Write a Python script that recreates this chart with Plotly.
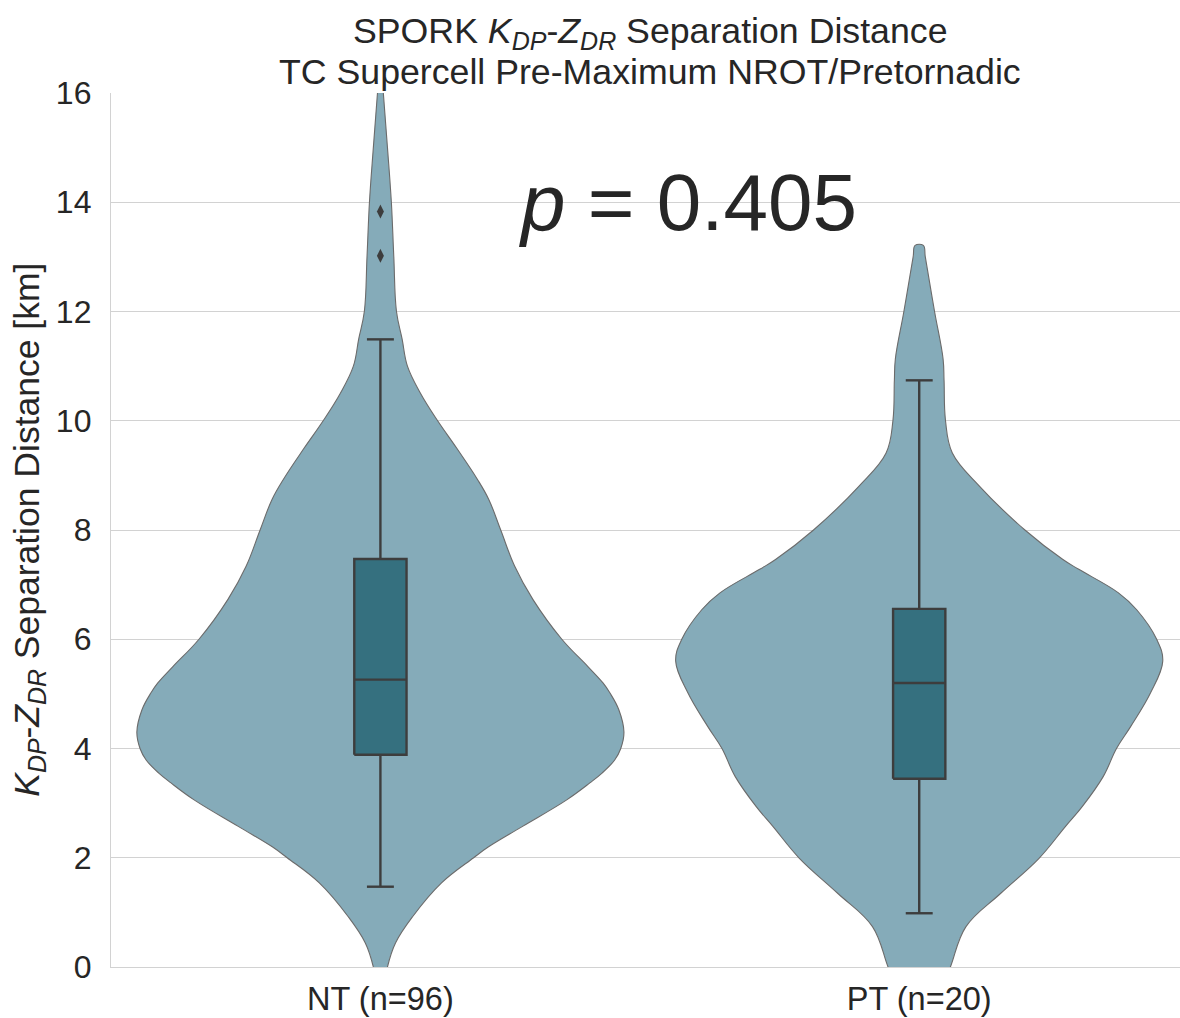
import plotly.graph_objects as go

# ---- data -------------------------------------------------------------
groups = ["NT (n=96)", "PT (n=20)"]
positions = [0, 1]

# Kernel-density outline of each group: value levels (km) and relative density
nt_levels = [-0.6, 0.0, 0.44, 0.92, 1.54, 2.0, 2.2, 2.57, 3.06, 3.37, 3.55, 3.79,
             4.0, 4.3, 4.71, 5.02, 5.2, 5.5, 6.0, 6.73, 7.34, 8.0, 8.56, 8.93,
             9.5, 10.0, 10.5, 11.0, 11.5, 12.0, 13.0, 14.0, 15.0, 16.0, 16.4]
nt_density = [0.008, 0.029, 0.062, 0.132, 0.251, 0.383, 0.444, 0.582, 0.765, 0.86,
              0.91, 0.962, 0.987, 1.0, 0.979, 0.942, 0.914, 0.852, 0.745, 0.626,
              0.551, 0.494, 0.445, 0.398, 0.313, 0.235, 0.165, 0.111, 0.089, 0.066,
              0.055, 0.045, 0.029, 0.012, 0.004]

pt_levels = [-0.5, 0.0, 0.74, 1.35, 1.99, 2.57, 2.94, 3.49, 4.0, 4.4, 5.02, 5.6,
             6.0, 6.54, 6.85, 7.28, 7.46, 8.0, 8.8, 9.41, 10.0, 10.74, 11.13,
             12.0, 13.0, 13.21]
pt_density = [0.083, 0.128, 0.192, 0.335, 0.492, 0.60, 0.67, 0.756, 0.81, 0.868,
              0.950, 1.0, 0.975, 0.893, 0.818, 0.655, 0.59, 0.434, 0.248, 0.136,
              0.108, 0.102, 0.098, 0.063, 0.025, 0.017]

# Box-plot summary statistics (km)
q1 = [3.885, 3.446]
median = [5.26, 5.20]
q3 = [7.47, 6.556]
lower_whisker = [1.47, 0.984]
upper_whisker = [11.49, 10.74]
nt_outliers = [13.02, 13.83]

p_value = 0.405

# ---- styling ------------------------------------------------------------
VIOLIN_FILL = "#85abb9"
VIOLIN_EDGE = "#6b6b6b"
BOX_FILL = "#35707f"
BOX_EDGE = "#3d3d3d"
GRID = "#d2d2d2"
TEXT = "#262626"
FONT = "Liberation Sans, Arial, sans-serif"
HALF_WIDTH = 0.452     # widest half of each violin, in category units
BOX_HALF = 0.0485      # half width of the inner box
CAP_HALF = 0.025       # half width of the whisker caps

fig = go.Figure()

# violin bodies
for pos, levels, dens in [(positions[0], nt_levels, nt_density),
                          (positions[1], pt_levels, pt_density)]:
    right = [pos + HALF_WIDTH * d for d in dens]
    left = [pos - HALF_WIDTH * d for d in reversed(dens)]
    xs = right + left + [right[0]]
    ys = list(levels) + list(reversed(levels)) + [levels[0]]
    fig.add_trace(go.Scatter(
        x=xs, y=ys, mode="lines", fill="toself", fillcolor=VIOLIN_FILL,
        line=dict(color=VIOLIN_EDGE, width=1.1, shape="spline", smoothing=1.1),
        hoverinfo="skip", showlegend=False,
    ))

# inner box plots: whiskers, caps, box and median
for i, pos in enumerate(positions):
    wx = [pos, pos, None, pos, pos, None,
          pos - CAP_HALF, pos + CAP_HALF, None, pos - CAP_HALF, pos + CAP_HALF]
    wy = [q3[i], upper_whisker[i], None, q1[i], lower_whisker[i], None,
          upper_whisker[i], upper_whisker[i], None, lower_whisker[i], lower_whisker[i]]
    fig.add_trace(go.Scatter(
        x=wx, y=wy, mode="lines", line=dict(color=BOX_EDGE, width=2.4),
        hoverinfo="skip", showlegend=False,
    ))
    fig.add_trace(go.Scatter(
        x=[pos - BOX_HALF, pos + BOX_HALF, pos + BOX_HALF, pos - BOX_HALF, pos - BOX_HALF],
        y=[q1[i], q1[i], q3[i], q3[i], q1[i]],
        mode="lines", fill="toself", fillcolor=BOX_FILL,
        line=dict(color=BOX_EDGE, width=2.4),
        hoverinfo="skip", showlegend=False,
    ))
    fig.add_trace(go.Scatter(
        x=[pos - BOX_HALF, pos + BOX_HALF], y=[median[i], median[i]],
        mode="lines", line=dict(color=BOX_EDGE, width=2.4),
        hoverinfo="skip", showlegend=False,
    ))

fig.add_trace(go.Scatter(
    x=[positions[0]] * len(nt_outliers), y=nt_outliers, mode="markers",
    marker=dict(symbol="diamond-tall", size=10, color=BOX_EDGE),
    showlegend=False, hoverinfo="skip",
))

fig.add_annotation(
    x=0.571, y=14.0, xref="x", yref="y",
    text=f"<i>p</i> = {p_value:.3f}", showarrow=False,
    font=dict(size=80, color=TEXT, family=FONT),
    xanchor="center", yanchor="middle",
)

# y-axis title drawn as a rotated annotation
fig.add_annotation(
    x=-0.077, y=0.5, xref="paper", yref="paper",
    text="<i>K</i><sub><i>DP</i></sub>-<i>Z</i><sub><i>DR</i></sub> Separation Distance [km]",
    textangle=-90, showarrow=False,
    font=dict(size=35.5, color=TEXT, family=FONT),
    xanchor="center", yanchor="middle",
)

# two-line chart title
title_font = dict(size=35.7, color=TEXT, family=FONT)
title_x = (650 - 111) / 1069
fig.add_annotation(
    x=title_x, y=(967 - 33) / 874, xref="paper", yref="paper",
    text="SPORK <i>K</i><sub><i>DP</i></sub>-<i>Z</i><sub><i>DR</i></sub> Separation Distance",
    showarrow=False, font=title_font, xanchor="center", yanchor="middle",
)
fig.add_annotation(
    x=title_x, y=(967 - 72) / 874, xref="paper", yref="paper",
    text="TC Supercell Pre-Maximum NROT/Pretornadic",
    showarrow=False, font=title_font, xanchor="center", yanchor="middle",
)

fig.update_layout(
    width=1180, height=1018,
    margin=dict(l=111, r=0, t=93, b=51),
    paper_bgcolor="white", plot_bgcolor="white",
    font=dict(family=FONT, color=TEXT),
    showlegend=False,
)

fig.update_xaxes(
    range=[-0.5, 1.484], tickvals=positions, ticktext=groups,
    showgrid=False, zeroline=False, showline=True, linecolor=GRID, linewidth=1.3,
    ticks="", tickfont=dict(size=32.5, color=TEXT, family=FONT), ticklabelstandoff=3,
)
fig.update_yaxes(
    range=[0, 16], tickvals=list(range(0, 17, 2)),
    showgrid=True, gridcolor=GRID, gridwidth=1.3, zeroline=False,
    showline=True, linecolor=GRID, linewidth=1.3,
    ticks="", tickfont=dict(size=32, color=TEXT, family=FONT), ticklabelstandoff=12,
)

fig.write_html("out.html")
